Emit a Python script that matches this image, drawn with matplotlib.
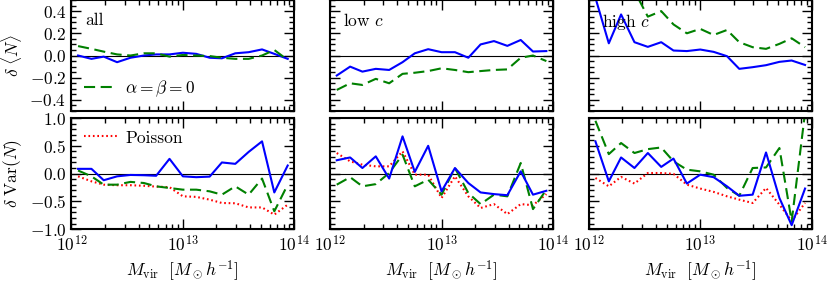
import numpy as np
import matplotlib
matplotlib.use("Agg")
from matplotlib import pyplot as plt
from matplotlib.ticker import AutoMinorLocator

plt.rcParams['font.family'] = 'serif'
plt.rcParams['font.serif'] = ['cmr10']
plt.rcParams['mathtext.fontset'] = 'cm'
plt.rcParams['axes.formatter.use_mathtext'] = True
plt.rcParams['font.size'] = 12.5
plt.rcParams['lines.scale_dashes'] = False

# bin centres, log10(Mvir)
logM = [12.06, 12.18, 12.29, 12.41, 12.53, 12.65, 12.76, 12.88, 13.00,
        13.12, 13.24, 13.35, 13.47, 13.59, 13.71, 13.82, 13.94]

# delta <N>
dN_all = [0.0, -0.03, -0.01, -0.06, -0.02, 0.0, 0.01, 0.01, 0.025,
          0.015, -0.02, -0.025, 0.02, 0.03, 0.055, 0.015, -0.03]
dN_all_ab0 = [0.085, 0.06, 0.035, 0.01, 0.0, 0.02, 0.02, -0.01, 0.005,
              0.0, -0.005, -0.02, -0.03, -0.03, 0.0, 0.05, -0.04]
dN_low = [-0.18, -0.10, -0.145, -0.12, -0.13, -0.06, 0.02, 0.057, 0.03,
          0.03, -0.02, 0.10, 0.13, 0.087, 0.14, 0.036, 0.04]
dN_low_ab0 = [-0.31, -0.25, -0.265, -0.21, -0.25, -0.165, -0.155, -0.14, -0.115,
              -0.13, -0.15, -0.14, -0.13, -0.125, -0.02, 0.0, -0.05]
dN_high = [0.52, 0.11, 0.37, 0.12, 0.078, 0.12, 0.045, 0.04, 0.054,
           0.033, -0.006, -0.12, -0.105, -0.087, -0.057, -0.045, -0.085]
dN_high_ab0 = [0.8, 0.9, 0.75, 0.58, 0.35, 0.40, 0.28, 0.20, 0.24,
               0.185, 0.23, 0.12, 0.075, 0.06, 0.105, 0.155, 0.075]

# delta Var(N)
dV_all = [0.085, 0.085, -0.12, -0.05, -0.025, -0.03, -0.04, 0.265, -0.05,
          -0.065, -0.055, 0.20, 0.175, 0.39, 0.58, -0.34, 0.145]
dV_all_ab0 = [0.055, -0.05, -0.2, -0.2, -0.15, -0.17, -0.23, -0.26, -0.29,
              -0.29, -0.32, -0.38, -0.23, -0.38, -0.09, -0.68, -0.2]
dV_all_pois = [-0.05, -0.14, -0.2, -0.21, -0.21, -0.22, -0.235, -0.245, -0.41,
               -0.42, -0.47, -0.53, -0.535, -0.61, -0.61, -0.74, -0.56]
dV_low = [0.24, 0.29, 0.10, 0.31, -0.09, 0.67, 0.03, 0.50, -0.32,
          0.10, -0.17, -0.34, -0.37, -0.39, 0.04, -0.38, -0.31]
dV_low_ab0 = [-0.2, -0.065, -0.23, -0.19, 0.01, 0.34, -0.23, -0.11, -0.38,
              0.10, -0.35, -0.55, -0.38, -0.41, 0.19, -0.64, -0.29]
dV_low_pois = [0.37, 0.22, 0.16, 0.13, 0.13, 0.40, -0.02, -0.02, -0.44,
               -0.05, -0.41, -0.62, -0.55, -0.73, -0.55, -0.57, -0.37]
dV_high = [0.58, -0.14, 0.29, 0.10, 0.37, 0.12, 0.27, -0.18, -0.02,
           -0.065, -0.23, -0.40, -0.38, 0.38, -0.44, -0.93, -0.27]
dV_high_ab0 = [0.95, 0.35, 0.55, 0.37, 0.44, 0.47, 0.22, 0.07, 0.04,
               -0.02, -0.26, -0.40, 0.10, 0.11, 0.46, -0.86, 1.1]
dV_high_pois = [-0.08, -0.23, -0.06, -0.18, 0.01, 0.01, -0.005, -0.2, -0.27,
                -0.33, -0.41, -0.47, -0.53, -0.26, -0.56, -0.85, -0.53]

M = 10.0 ** np.array(logM)
titles = ['all', r'low $c$', r'high $c$']
top = [(dN_all, dN_all_ab0), (dN_low, dN_low_ab0), (dN_high, dN_high_ab0)]
bot = [(dV_all, dV_all_ab0, dV_all_pois), (dV_low, dV_low_ab0, dV_low_pois),
       (dV_high, dV_high_ab0, dV_high_pois)]

fig, axes = plt.subplots(2, 3, figsize=(8.3, 2.86), dpi=100, sharex=True, sharey='row')
fig.subplots_adjust(left=0.086, right=0.978, bottom=0.199, top=1.0,
                    hspace=0.063, wspace=0.16)

dash = (0, (8, 4))
dot = (0, (1.2, 2.0))

for j in range(3):
    a = axes[0, j]
    a.axhline(0, color='k', lw=0.8)
    a.plot(M, top[j][0], color='b', lw=1.5)
    a.plot(M, top[j][1], color='g', lw=1.5, linestyle=dash, label=r'$\alpha=\beta=0$')
    a.set_ylim(-0.5, 0.5)
    a.set_yticks([-0.4, -0.2, 0.0, 0.2, 0.4])
    a.text(0.06, 0.89, titles[j], transform=a.transAxes, va='top', ha='left')

    b = axes[1, j]
    b.axhline(0, color='k', lw=0.8)
    b.plot(M, bot[j][2], color='r', lw=1.5, linestyle=dot, label='Poisson')
    b.plot(M, bot[j][1], color='g', lw=1.5, linestyle=dash)
    b.plot(M, bot[j][0], color='b', lw=1.5)
    b.set_ylim(-1.0, 1.0)
    b.set_yticks([-1.0, -0.5, 0.0, 0.5, 1.0])
    b.set_xlabel(r'$M_{\rm vir}\ \ [M_\odot h^{-1}]$', labelpad=3)

for a in axes.flat:
    a.set_xscale('log')
    a.set_xlim(1e12, 1e14)
    a.yaxis.set_minor_locator(AutoMinorLocator())
    a.tick_params(which='both', direction='in', top=True, right=True, width=1)
    a.tick_params(which='major', length=7)
    a.tick_params(which='minor', length=3.5)
    for s in a.spines.values():
        s.set_linewidth(1.5)

axes[0, 0].set_ylabel(r'$\delta\ \langle N\rangle$')
axes[1, 0].set_ylabel(r'$\delta\ {\rm Var}(N)$')
axes[0, 0].legend(loc='lower left', frameon=False, handlelength=1.9,
                  handletextpad=0.5, borderaxespad=0.3)
axes[1, 0].legend(loc='upper left', frameon=False, handlelength=1.9,
                  handletextpad=0.5, borderaxespad=0.3)

fig.savefig('out.png', dpi=100)
